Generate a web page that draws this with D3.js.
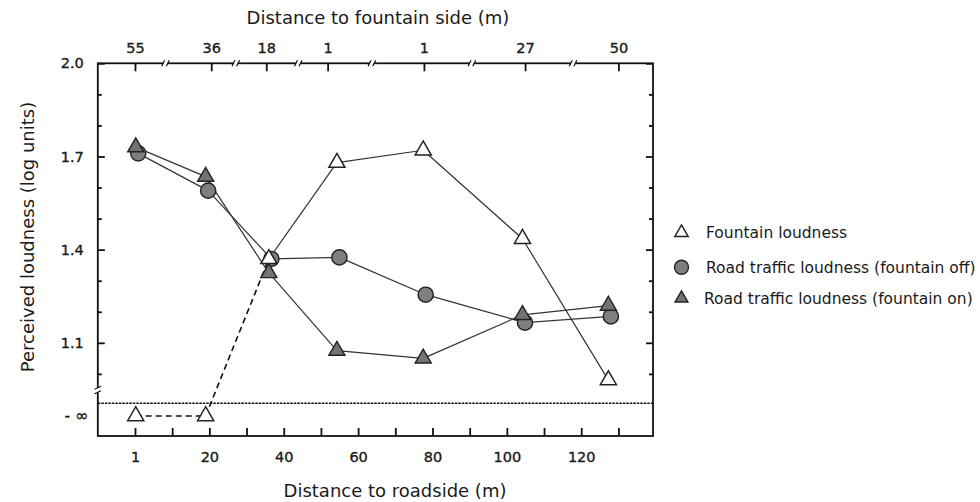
<!DOCTYPE html>
<html>
<head>
<meta charset="utf-8">
<script src="https://cdn.jsdelivr.net/npm/d3@7"></script>
<style>
  body { margin: 0; background: #fff; }
  svg { display: block; }
  text { font-family: "DejaVu Sans", Verdana, sans-serif; fill: #1a1a1a; }
</style>
</head>
<body>
<svg id="chart" width="980" height="502"></svg>
<script>
// Measurement positions along the road (m) and perceived loudness (log units)
const roadsidePos = [0.2, 19, 36, 54.3, 77.5, 104.2, 127.3];
const fountainLoudness = [-Infinity, -Infinity, 1.37, 1.68, 1.72, 1.435, 0.98];
const trafficFountainOff = [1.71, 1.59, 1.37, 1.375, 1.255, 1.165, 1.185];
const trafficFountainOn = [1.73, 1.635, 1.325, 1.075, 1.05, 1.19, 1.22];

// Axis ticks
const bottomTicks = [0, 10, 20, 30, 40, 50, 60, 70, 80, 90, 100, 110, 120, 130];
const bottomTickLabels = ["1", "", "20", "", "40", "", "60", "", "80", "", "100", "", "120", ""];
const topTickPos = [0, 20.5, 35.3, 51.8, 77.7, 104.9, 130];
const topTickLabels = ["55", "36", "18", "1", "1", "27", "50"];
const topBreakPos = [8.2, 27.1, 43.9, 63.7, 90.6, 117.8];
const yMajorTicks = [1.1, 1.4, 1.7, 2.0];
const yMinorTicks = [1.0, 1.2, 1.3, 1.5, 1.6, 1.8, 1.9];
const negInfLabel = "- \u221E";

const seriesNames = [
  "Fountain loudness",
  "Road traffic loudness (fountain off)",
  "Road traffic loudness (fountain on)"
];

const svg = d3.select("#chart");
const L = 97.8, R = 653, T = 63.3, B = 436;
const x = d3.scaleLinear().domain([-10, 139.3]).range([L, R]);
const y = d3.scaleLinear().domain([0.8, 2.0]).range([B, T]);
const yInf = B - 20;      // row for -infinity
const yCut = B - 32.7;    // dotted separator
const yBreak = B - 46;    // axis break mark

const yPos = v => Number.isFinite(v) ? y(v) : yInf;

const INK = "#111";
const LINE = "#333";
const GRAY_C = "#7f7f7f";
const GRAY_T = "#737373";
const TICK_FONT = 14.5;

// frame
svg.append("rect")
  .attr("x", L).attr("y", T).attr("width", R - L).attr("height", B - T)
  .attr("fill", "none").attr("stroke", INK).attr("stroke-width", 1.8);

// dotted separator above the -infinity row
svg.append("line")
  .attr("x1", L).attr("x2", R).attr("y1", yCut).attr("y2", yCut)
  .attr("stroke", INK).attr("stroke-width", 1.5).attr("stroke-dasharray", "2.5 1");

// axes
function styleAxis(g) {
  g.select(".domain").remove();
  g.selectAll(".tick line").attr("stroke", INK).attr("stroke-width", 1.8);
  g.selectAll(".tick text")
    .attr("font-family", "'DejaVu Sans', Verdana, sans-serif")
    .attr("font-size", TICK_FONT).attr("fill", "#1a1a1a")
    .attr("stroke", "#1a1a1a").attr("stroke-width", 0.35);
}

svg.append("g").attr("transform", `translate(${L},0)`)
  .call(d3.axisLeft(y).tickValues(yMajorTicks).tickSize(-7).tickPadding(14).tickFormat(d3.format(".1f")))
  .call(styleAxis);
svg.append("g").attr("transform", `translate(${L},0)`)
  .call(d3.axisLeft(y).tickValues(yMinorTicks).tickSize(-4).tickFormat(""))
  .call(styleAxis);
svg.append("g").attr("transform", `translate(${R},0)`)
  .call(d3.axisRight(y).tickValues(yMajorTicks).tickSize(-7).tickFormat(""))
  .call(styleAxis);
svg.append("g").attr("transform", `translate(${R},0)`)
  .call(d3.axisRight(y).tickValues(yMinorTicks).tickSize(-4).tickFormat(""))
  .call(styleAxis);

svg.append("g").attr("transform", `translate(0,${B})`)
  .call(d3.axisBottom(x).tickValues(bottomTicks).tickSize(-8).tickPadding(15.4)
    .tickFormat((d, i) => bottomTickLabels[i]))
  .call(styleAxis);

svg.append("g").attr("transform", `translate(0,${T})`)
  .call(d3.axisTop(x).tickValues(topTickPos).tickSize(-8).tickPadding(10.5)
    .tickFormat((d, i) => topTickLabels[i]))
  .call(styleAxis);

// -infinity label
svg.append("text")
  .attr("x", 88).attr("y", yInf).attr("dy", "0.35em")
  .attr("text-anchor", "end").attr("font-size", 15.5)
  .attr("stroke", "#1a1a1a").attr("stroke-width", 0.35)
  .text(negInfLabel);

// break marks on the top axis
topBreakPos.forEach(v => {
  const g = svg.append("g").attr("transform", `translate(${x(v)},${T})`);
  g.append("rect").attr("x", -2.2).attr("y", -2).attr("width", 4.4).attr("height", 4).attr("fill", "#fff");
  g.append("line").attr("x1", -3.8).attr("y1", 3).attr("x2", -0.8).attr("y2", -3)
    .attr("stroke", INK).attr("stroke-width", 1.2);
  g.append("line").attr("x1", 0.8).attr("y1", 3).attr("x2", 3.8).attr("y2", -3)
    .attr("stroke", INK).attr("stroke-width", 1.2);
});

// break mark on the left axis
{
  const g = svg.append("g").attr("transform", `translate(${L},${yBreak})`);
  g.append("rect").attr("x", -2).attr("y", -2.2).attr("width", 4).attr("height", 4.4).attr("fill", "#fff");
  g.append("line").attr("x1", -3.2).attr("y1", -0.8).attr("x2", 3.2).attr("y2", -3.8)
    .attr("stroke", INK).attr("stroke-width", 1.2);
  g.append("line").attr("x1", -3.2).attr("y1", 3.8).attr("x2", 3.2).attr("y2", 0.8)
    .attr("stroke", INK).attr("stroke-width", 1.2);
}

// series lines
const offShift = 2.5;
const pts = (vals, dx = 0) => vals.map((v, i) => ({ x: x(roadsidePos[i]) + dx, y: yPos(v), finite: Number.isFinite(v) }));
const fPts = pts(fountainLoudness);
const offPts = pts(trafficFountainOff, offShift);
const onPts = pts(trafficFountainOn);

function drawSegments(p) {
  for (let i = 0; i < p.length - 1; i++) {
    const dashed = !(p[i].finite && p[i + 1].finite);
    svg.append("line")
      .attr("x1", p[i].x).attr("y1", p[i].y).attr("x2", p[i + 1].x).attr("y2", p[i + 1].y)
      .attr("stroke", dashed ? INK : LINE)
      .attr("stroke-width", dashed ? 1.6 : 1.2)
      .attr("stroke-dasharray", dashed ? "6 4" : null);
  }
}
drawSegments(offPts);
drawSegments(onPts);
drawSegments(fPts);

// markers
const tri = d3.symbol().type(d3.symbolTriangle).size(112);
svg.append("g").selectAll("circle").data(offPts).join("circle")
  .attr("cx", d => d.x).attr("cy", d => d.y).attr("r", 7.6)
  .attr("fill", GRAY_C).attr("stroke", "#222").attr("stroke-width", 1.4);
svg.append("g").selectAll("path").data(onPts).join("path")
  .attr("d", tri).attr("transform", d => `translate(${d.x},${d.y})`)
  .attr("fill", GRAY_T).attr("stroke", "#222").attr("stroke-width", 1.4);
svg.append("g").selectAll("path").data(fPts).join("path")
  .attr("d", tri).attr("transform", d => `translate(${d.x},${d.y})`)
  .attr("fill", "#fff").attr("stroke", "#222").attr("stroke-width", 1.5);

// legend
const legendRows = [232.7, 267.3, 298.3];
const lg = svg.append("g");
lg.append("path").attr("d", d3.symbol().type(d3.symbolTriangle).size(78)())
  .attr("transform", `translate(681.5,${legendRows[0]})`)
  .attr("fill", "#fff").attr("stroke", "#222").attr("stroke-width", 1.4);
lg.append("circle").attr("cx", 681.5).attr("cy", legendRows[1]).attr("r", 7)
  .attr("fill", GRAY_C).attr("stroke", "#222").attr("stroke-width", 1.4);
lg.append("path").attr("d", d3.symbol().type(d3.symbolTriangle).size(72)())
  .attr("transform", `translate(681.5,${legendRows[2]})`)
  .attr("fill", GRAY_T).attr("stroke", "#222").attr("stroke-width", 1.4);
const legendTextX = [706, 706, 704];
seriesNames.forEach((name, i) => {
  lg.append("text").attr("x", legendTextX[i]).attr("y", legendRows[i]).attr("dy", "0.35em")
    .attr("font-size", 15.5).text(name);
});

// axis titles
svg.append("text").attr("x", 378).attr("y", 24).attr("text-anchor", "middle")
  .attr("font-size", 18).text("Distance to fountain side (m)");
svg.append("text").attr("x", 395).attr("y", 497).attr("text-anchor", "middle")
  .attr("font-size", 18).text("Distance to roadside (m)");
svg.append("text").attr("transform", "translate(34,237) rotate(-90)").attr("text-anchor", "middle")
  .attr("font-size", 18).text("Perceived loudness (log units)");
</script>
</body>
</html>
